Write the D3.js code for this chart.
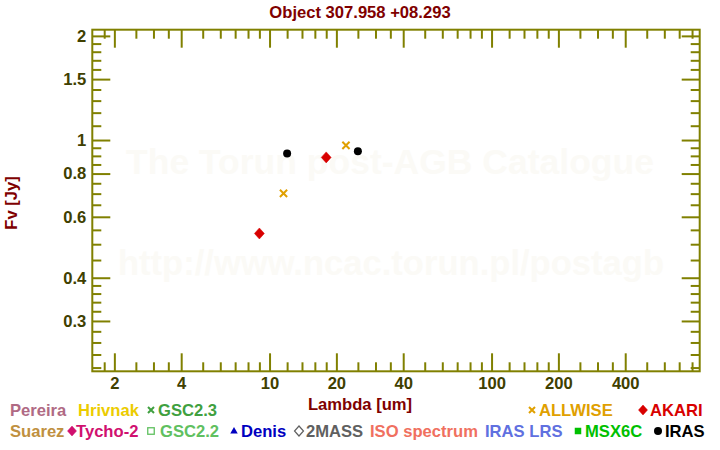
<!DOCTYPE html>
<html><head><meta charset="utf-8">
<script src="https://cdn.jsdelivr.net/npm/d3@7"></script>
<style>
html,body{margin:0;padding:0;background:#fff;}
svg{display:block;}
text{font-family:"Liberation Sans",Arial,Helvetica,sans-serif;font-weight:bold;}
</style></head>
<body>
<script>
// ---- data ----
const title = "Object 307.958 +08.293";
const xTitle = "Lambda [um]";
const yTitle = "Fv [Jy]";
const iras = [[12, 0.915], [25, 0.928]];
const allwise = [[11.56, 0.701], [22.09, 0.965]];
const akari = [[9, 0.537], [18, 0.891]];
const xMajor = [2, 4, 10, 20, 40, 100, 200, 400];
const xMinor = [1.8, 2.5, 3, 3.5, 5, 6, 7, 8, 9, 12, 14, 16, 18, 25, 30, 35, 50, 60, 70, 80, 90,
                120, 140, 160, 180, 250, 300, 350, 500, 600, 700, 800];
const yMajor = [0.3, 0.4, 0.6, 0.8, 1, 1.5, 2];
const yMinor = [0.22, 0.24, 0.26, 0.28, 0.32, 0.34, 0.36, 0.38, 0.45, 0.5, 0.55, 0.65, 0.7, 0.75,
                0.85, 0.9, 0.95, 1.1, 1.2, 1.3, 1.4, 1.6, 1.7, 1.8, 1.9];
const watermark = ["The Torun post-AGB Catalogue", "http://www.ncac.torun.pl/postagb"];
const legendRow1 = ["Pereira", "Hrivnak", "GSC2.3", "ALLWISE", "AKARI"];
const legendRow2 = ["Suarez", "Tycho-2", "GSC2.2", "Denis", "2MASS", "ISO spectrum", "IRAS LRS", "MSX6C", "IRAS"];

// ---- styles / layout (not data) ----
const legendStyle = {
  "Pereira": {color: "#b06a84", sym: null},
  "Hrivnak": {color: "#eccc00", sym: null},
  "GSC2.3": {color: "#40a040", sym: "x"},
  "ALLWISE": {color: "#e0a000", sym: "x"},
  "AKARI": {color: "#d80000", sym: "diamond"},
  "Suarez": {color: "#c09040", sym: null},
  "Tycho-2": {color: "#d0106f", sym: "diamond"},
  "GSC2.2": {color: "#60c060", sym: "squareOpen"},
  "Denis": {color: "#0000c0", sym: "triangle"},
  "2MASS": {color: "#606060", sym: "diamondOpen"},
  "ISO spectrum": {color: "#f07060", sym: null},
  "IRAS LRS": {color: "#6070e0", sym: null},
  "MSX6C": {color: "#00c000", sym: "square"},
  "IRAS": {color: "#000000", sym: "circle"}
};
const row1X = [10, 78, 147, 528, 639];
const row2X = [10, 68, 147, 230, 295, 370, 485, 574, 654];
const FS = 16.6;

const W = 720, H = 450;
const L = 92.3, R = 699.7, T = 29.7, B = 371.3;
const frame = "#808000", lab = "#404000", dred = "#800000";

const svg = d3.select("body").append("svg").attr("width", W).attr("height", H);

const x = d3.scaleLog().domain([1.591, 866]).range([L, R]);
const y = d3.scaleLog().domain([0.2146, 2.084]).range([B, T]);

// watermark
svg.append("text").attr("x", 390).attr("y", 174).attr("text-anchor", "middle")
  .attr("font-size", 35.5).attr("fill", "#fbfaf6").text(watermark[0]);
svg.append("text").attr("x", 391).attr("y", 275).attr("text-anchor", "middle")
  .attr("font-size", 34.6).attr("fill", "#fbfaf6").text(watermark[1]);

// title
svg.append("text").attr("x", 360).attr("y", 18).attr("text-anchor", "middle")
  .attr("font-size", FS).attr("fill", dred).text(title);

function styleAxis(g) {
  g.select(".domain").remove();
  g.selectAll(".tick line").attr("stroke", frame).attr("stroke-width", 2);
  g.selectAll(".tick text").attr("fill", lab).attr("font-size", FS)
    .attr("font-family", '"Liberation Sans",Arial,sans-serif').attr("font-weight", "bold");
}

// bottom
svg.append("g").attr("transform", `translate(0,${B})`)
  .call(d3.axisBottom(x).tickValues(xMajor).tickSizeInner(-18).tickSizeOuter(0).tickPadding(6).tickFormat(d3.format("d")))
  .call(styleAxis);
svg.append("g").attr("transform", `translate(0,${B})`)
  .call(d3.axisBottom(x).tickValues(xMinor).tickSizeInner(-9).tickSizeOuter(0).tickFormat(""))
  .call(styleAxis);
// top
svg.append("g").attr("transform", `translate(0,${T})`)
  .call(d3.axisTop(x).tickValues(xMajor).tickSizeInner(-18).tickSizeOuter(0).tickFormat(""))
  .call(styleAxis);
svg.append("g").attr("transform", `translate(0,${T})`)
  .call(d3.axisTop(x).tickValues(xMinor).tickSizeInner(-9).tickSizeOuter(0).tickFormat(""))
  .call(styleAxis);
// left
svg.append("g").attr("transform", `translate(${L},0)`)
  .call(d3.axisLeft(y).tickValues(yMajor).tickSizeInner(-18).tickSizeOuter(0).tickPadding(6).tickFormat(d => String(d)))
  .call(styleAxis);
svg.append("g").attr("transform", `translate(${L},0)`)
  .call(d3.axisLeft(y).tickValues(yMinor).tickSizeInner(-9).tickSizeOuter(0).tickFormat(""))
  .call(styleAxis);
// right
svg.append("g").attr("transform", `translate(${R},0)`)
  .call(d3.axisRight(y).tickValues(yMajor).tickSizeInner(-18).tickSizeOuter(0).tickFormat(""))
  .call(styleAxis);
svg.append("g").attr("transform", `translate(${R},0)`)
  .call(d3.axisRight(y).tickValues(yMinor).tickSizeInner(-9).tickSizeOuter(0).tickFormat(""))
  .call(styleAxis);

// frame
svg.append("rect").attr("x", L).attr("y", T).attr("width", R - L).attr("height", B - T)
  .attr("fill", "none").attr("stroke", frame).attr("stroke-width", 2);

// axis titles
svg.append("text").attr("x", 360).attr("y", 410).attr("text-anchor", "middle")
  .attr("font-size", FS).attr("fill", dred).text(xTitle);
svg.append("text").attr("transform", "translate(17,203) rotate(-90)").attr("text-anchor", "middle")
  .attr("font-size", FS).attr("fill", dred).text(yTitle);

// marker drawing
function marker(g, sym, color, cx, cy, s) {
  if (sym === "circle") {
    g.append("circle").attr("cx", cx).attr("cy", cy).attr("r", s * 0.8).attr("fill", color);
  } else if (sym === "diamond" || sym === "diamondOpen") {
    g.append("path").attr("d", `M${cx},${cy - s}L${cx + s * 0.9},${cy}L${cx},${cy + s}L${cx - s * 0.9},${cy}Z`)
      .attr("fill", sym === "diamond" ? color : "none").attr("stroke", color).attr("stroke-width", sym === "diamond" ? 0.5 : 1.2);
  } else if (sym === "x") {
    const d = s * 0.6;
    g.append("path").attr("d", `M${cx - d},${cy - d}L${cx + d},${cy + d}M${cx - d},${cy + d}L${cx + d},${cy - d}`)
      .attr("stroke", color).attr("stroke-width", 2).attr("fill", "none");
  } else if (sym === "square" || sym === "squareOpen") {
    const d = s * 0.65;
    g.append("rect").attr("x", cx - d).attr("y", cy - d).attr("width", 2 * d).attr("height", 2 * d)
      .attr("fill", sym === "square" ? color : "none").attr("stroke", color).attr("stroke-width", sym === "square" ? 0 : 1.3);
  } else if (sym === "triangle") {
    g.append("path").attr("d", `M${cx},${cy - s * 0.8}L${cx + s * 0.75},${cy + s * 0.5}L${cx - s * 0.75},${cy + s * 0.5}Z`)
      .attr("fill", color);
  }
}

// data points
const pts = svg.append("g");
allwise.forEach(d => marker(pts, "x", legendStyle["ALLWISE"].color, x(d[0]), y(d[1]), 6));
akari.forEach(d => marker(pts, "diamond", legendStyle["AKARI"].color, x(d[0]), y(d[1]), 5.5));
iras.forEach(d => marker(pts, "circle", legendStyle["IRAS"].color, x(d[0]), y(d[1]), 5));

// legend
function legendRow(names, xs, baseY) {
  const g = svg.append("g");
  names.forEach((n, i) => {
    const st = legendStyle[n];
    let tx = xs[i];
    if (st.sym) {
      marker(g, st.sym, st.color, tx + 4, baseY - 6, 5);
      tx += n === "Tycho-2" ? 8 : (st.sym === "squareOpen" ? 13 : 11);
    }
    g.append("text").attr("x", tx).attr("y", baseY).attr("font-size", FS).attr("fill", st.color).text(n);
  });
}
legendRow(legendRow1, row1X, 416);
legendRow(legendRow2, row2X, 437);
</script>
</body></html>
